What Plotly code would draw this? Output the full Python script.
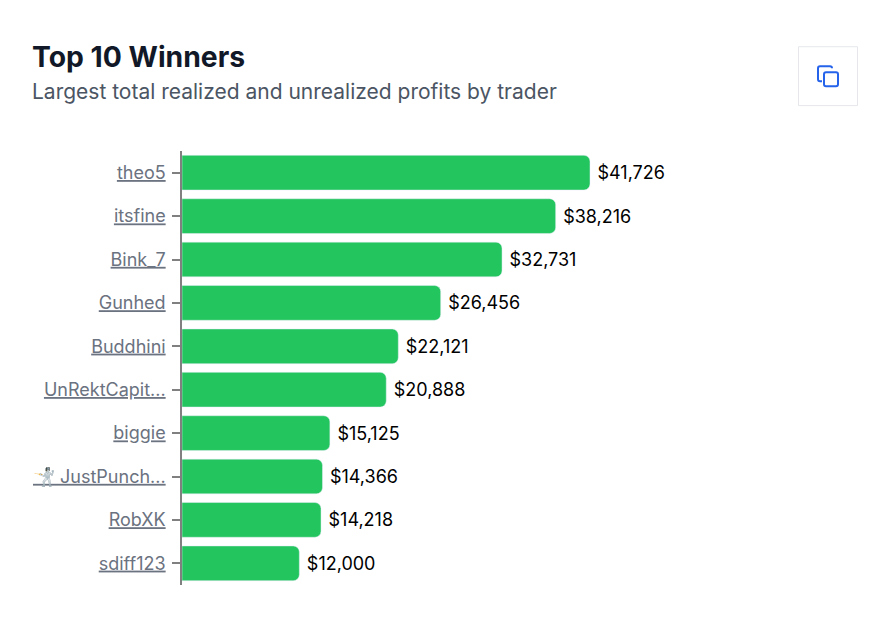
import plotly.graph_objects as go

traders = ["theo5", "itsfine", "Bink_7", "Gunhed", "Buddhini", "UnRektCapit...", "biggie", "🤺 JustPunch...", "RobXK", "sdiff123"]
profits = [41726, 38216, 32731, 26456, 22121, 20888, 15125, 14366, 14218, 12000]

W, H = 892, 629
LEFT, RIGHT, TOP, BOTTOM = 182, 842, 150.5, 585.5


def px(x):
    return (x - LEFT) / (RIGHT - LEFT)


# plotly rounds the plot area down to whole pixels, so y is measured from 586
def py(y):
    return (BOTTOM + 0.5 - y) / (BOTTOM - TOP)


labels = ["<u>" + t + "</u>" for t in traders]

fig = go.Figure()
fig.add_trace(go.Bar(
    x=profits,
    y=labels,
    orientation="h",
    marker=dict(color="#22c55e", cornerradius=6),
    text=["\u2005$" + format(v, ",") for v in profits],
    textposition="outside",
    textfont=dict(family="Inter", size=18, color="#000000"),
    cliponaxis=False,
    hoverinfo="skip",
))

fig.update_xaxes(range=[0, 67500], visible=False)
fig.update_yaxes(
    autorange="reversed",
    showline=True, linecolor="#808080", linewidth=1.5,
    ticks="outside", ticklen=8, tickcolor="#808080", tickwidth=1.5,
    ticklabelstandoff=3,
    tickfont=dict(family="Inter", size=18, color="#6b7280"),
    showgrid=False,
)

fig.add_annotation(text="<b>Top 10 Winners</b>", xref="paper", yref="paper", x=px(29.5), y=py(57),
                   xanchor="left", yanchor="middle", showarrow=False,
                   font=dict(family="Inter", size=28.3, color="#111827"))
fig.add_annotation(text="Largest total realized and unrealized profits by trader", xref="paper", yref="paper",
                   x=px(29.5), y=py(91), xanchor="left", yanchor="middle", showarrow=False,
                   font=dict(family="Inter", size=21, color="#4b5563"))

# copy button
fig.add_shape(type="rect", xref="paper", yref="paper", x0=px(798.5), x1=px(857.5), y0=py(46.5), y1=py(105.5),
              line=dict(color="#e5e7eb", width=1), fillcolor="#ffffff")
fig.add_shape(type="path", xref="paper", yref="paper",
              path=f"M {px(822)} {py(81)} L {px(820)} {py(81)} Q {px(818)} {py(81)} {px(818)} {py(79)} "
                   f"L {px(818)} {py(68)} Q {px(818)} {py(66)} {px(820)} {py(66)} "
                   f"L {px(830)} {py(66)} Q {px(832)} {py(66)} {px(832)} {py(68)}",
              line=dict(color="#2563eb", width=2))
fig.add_shape(type="path", xref="paper", yref="paper",
              path=f"M {px(826)} {py(72)} L {px(836)} {py(72)} Q {px(838)} {py(72)} {px(838)} {py(74)} "
                   f"L {px(838)} {py(84)} Q {px(838)} {py(86)} {px(836)} {py(86)} "
                   f"L {px(826)} {py(86)} Q {px(824)} {py(86)} {px(824)} {py(84)} "
                   f"L {px(824)} {py(74)} Q {px(824)} {py(72)} {px(826)} {py(72)} Z",
              line=dict(color="#2563eb", width=2))

fig.update_layout(
    width=W, height=H,
    margin=dict(l=LEFT, r=W - RIGHT, t=TOP, b=H - BOTTOM),
    bargap=0.2,
    showlegend=False,
    plot_bgcolor="#ffffff",
    paper_bgcolor="#ffffff",
)

fig.write_html("out.html", config={"displayModeBar": False}, post_script="document.body.style.margin='0';")
